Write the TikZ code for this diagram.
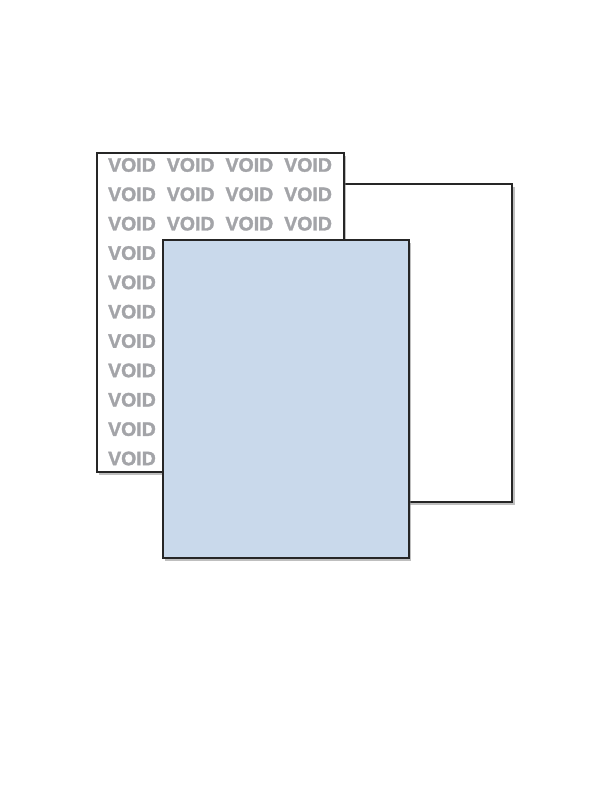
\documentclass[tikz,border=0pt]{standalone}
\usepackage{fontspec}
\newfontfamily\voidfont[FakeBold=1.6]{Liberation Sans}
\usetikzlibrary{positioning, shadows}
\definecolor{sheetblue}{HTML}{C9D9EB}
\definecolor{voidgray}{HTML}{A3A4A8}
\definecolor{edgegray}{HTML}{262626}

\begin{document}
\begin{tikzpicture}[x=1pt,y=-1pt,
 sheet/.style={draw=edgegray, line width=1.8pt, fill=white, inner sep=0pt,
   drop shadow={shadow xshift=2.5pt, shadow yshift=-3pt, opacity=.5, fill=gray}},
 void/.style={text=voidgray, font=\voidfont\bfseries\fontsize{19.5}{20}\selectfont, inner sep=0pt}]
  \useasboundingbox (0,0) rectangle (612,792);
  \node[sheet, minimum width=313pt, minimum height=318pt, anchor=north east] (plain) at (513,183) {};
  \node[sheet, minimum width=247pt, minimum height=319pt, anchor=north west] (voided) at (96,152) {};
  \foreach \r in {0,...,10} {
   \foreach \c in {0,...,3} {
    \node[void] (v\r\c) at (132+58.7*\c, 165+29.35*\r) {VOID};}}
  \node[sheet, fill=sheetblue, minimum width=246pt, minimum height=318pt, anchor=north west] (blue) at (162,239) {};
 \end{tikzpicture}
\end{document}
